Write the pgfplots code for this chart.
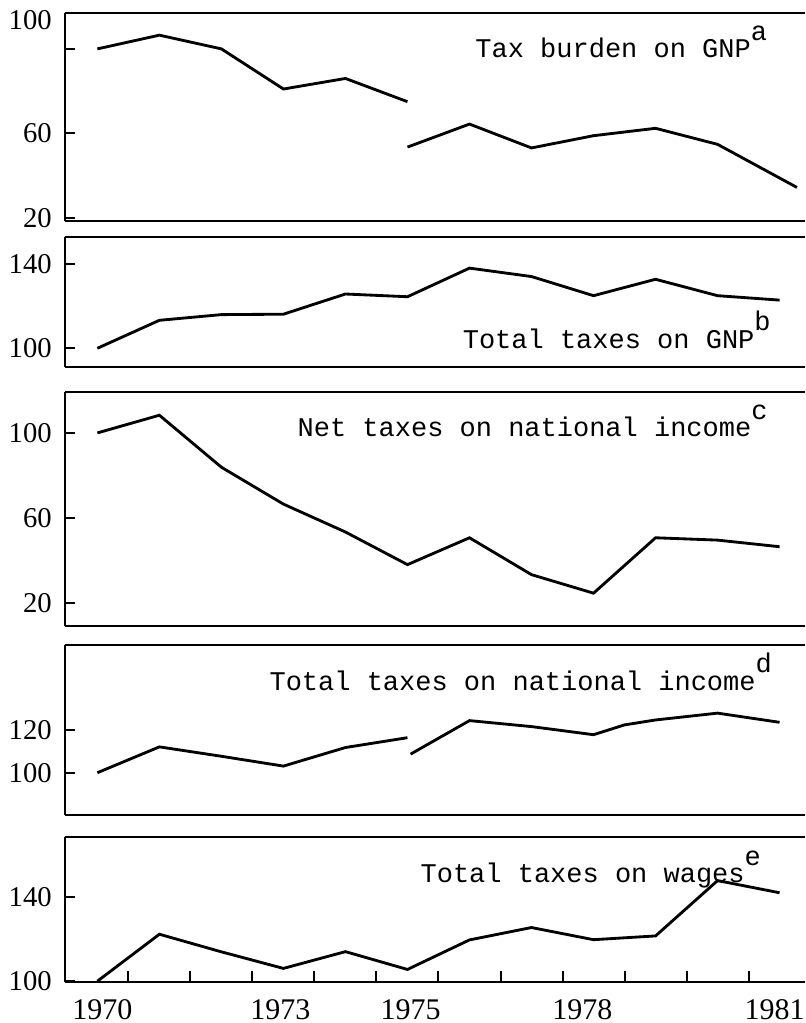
\documentclass[border=0pt]{standalone}
\usepackage{fontspec}
\setmainfont{Liberation Serif}
\setmonofont{Liberation Mono}
\usepackage{pgfplots}
\pgfplotsset{compat=1.18}
\newcommand{\supl}[1]{\raisebox{0.65em}{#1}}
\pgfplotsset{
  panel/.style={
    scale only axis, width=222.15pt, anchor=north west,
    xmin=1969.47, xmax=1981.41,
    axis x line*=box, axis y line*=left,
    xtick=\empty,
    axis line style={line width=0.6pt},
    major tick length=3.3pt,
    tick style={line width=0.6pt, black},
    yticklabel style={font=\fontsize{8.6}{10}\selectfont, xshift=-0.3pt},
    xticklabel style={font=\fontsize{9}{10}\selectfont, yshift=-1.6pt},
    /pgf/number format/assume math mode=true,
    no markers,
    every axis plot post/.append style={black, line width=0.85pt},
    clip=false,
  },
}
\tikzset{ann/.style={anchor=base west, font=\ttfamily\fontsize{8.1}{9}\selectfont, inner sep=0pt}}
\begin{document}
\begin{tikzpicture}
\useasboundingbox (0,0) rectangle (241.5pt,-306.9pt);
% Panel a
\begin{axis}[panel, at={(19.35pt,-3.9pt)}, height=62.4pt, ymin=18.5, ymax=117,
  ytick={20,60,100}, yticklabels={20,60,{}},
  extra y ticks={113.5}, extra y tick labels={100}, extra y tick style={major tick length=0pt}]
\addplot coordinates {(1970,100) (1971,106.5) (1972,100) (1973,81) (1974,86) (1975,75)};
\addplot coordinates {(1975,53.5) (1976,64.4) (1977,53.1) (1978,58.9) (1979,62.4) (1980,54.8) (1981.28,34.4)};
\node[ann] at (rel axis cs:0.554,0.784) {Tax burden on GNP\supl{a}};
\end{axis}
% Panel b
\begin{axis}[panel, at={(19.35pt,-71.1pt)}, height=39pt, ymin=91.1, ymax=152.9,
  ytick={100,140}, yticklabels={100,140}]
\addplot coordinates {(1970,100) (1971,113.3) (1972,116) (1973,116.2) (1974,125.8) (1975,124.5) (1976,138.1) (1977,134.1) (1978,125) (1979,132.8) (1980,125) (1981,122.9)};
\node[ann] at (rel axis cs:0.537,0.146) {Total taxes on GNP\supl{b}};
\end{axis}
% Panel c
\begin{axis}[panel, at={(19.35pt,-117.6pt)}, height=70.2pt, ymin=9.4, ymax=119.2,
  ytick={20,60,100}, yticklabels={20,60,100}]
\addplot coordinates {(1970,100) (1971,108.3) (1972,83.9) (1973,66.6) (1974,53.5) (1975,38.2) (1976,50.8) (1977,33.5) (1978,24.8) (1979,50.8) (1980,49.7) (1981,46.6)};
\node[ann] at (rel axis cs:0.314,0.808) {Net taxes on national income\supl{c}};
\end{axis}
% Panel d
\begin{axis}[panel, at={(19.35pt,-193.5pt)}, height=51pt, ymin=80.2, ymax=159.8,
  ytick={100,120}, yticklabels={100,120}]
\addplot coordinates {(1970,100) (1971,112.1) (1972,107.7) (1973,103.1) (1974,111.8) (1975,116.4)};
\addplot coordinates {(1975.05,108.7) (1976,124.4) (1977,121.6) (1978,117.8) (1978.5,122.4) (1979,124.7) (1980,127.9) (1981,123.6)};
\node[ann] at (rel axis cs:0.276,0.735) {Total taxes on national income\supl{d}};
\end{axis}
% Panel e
\begin{axis}[panel, at={(19.35pt,-251.1pt)}, height=43.5pt, ymin=99.6, ymax=168.8,
  ytick={100,140}, yticklabels={100,140},
  xtick={1970.5,1971.5,1972.5,1973.5,1974.5,1975.5,1976.5,1977.5,1978.5,1979.5,1980.5},
  xticklabel=\empty, xtick pos=bottom,
  extra x ticks={1970.08,1972.95,1975.05,1977.82,1980.92}, extra x tick labels={1970,1973,1975,1978,1981},
  extra x tick style={major tick length=0pt}]
\addplot coordinates {(1970,100) (1971,122.4) (1972,114) (1973,106.1) (1974,114.1) (1975,105.6) (1976,119.7) (1977,125.6) (1978,119.8) (1979,121.6) (1980,148) (1981,142.2)};
\node[ann] at (rel axis cs:0.480,0.685) {Total taxes on wages\supl{e}};
\end{axis}
\end{tikzpicture}
\end{document}
